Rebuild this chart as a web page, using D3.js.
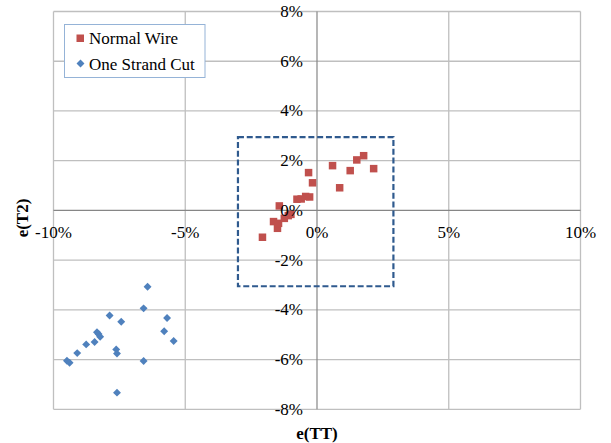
<!DOCTYPE html>
<html>
<head>
<meta charset="utf-8">
<script src="https://cdn.jsdelivr.net/npm/d3@7"></script>
<style>
  html, body { margin: 0; padding: 0; background: #fff; }
  svg { display: block; }
</style>
</head>
<body>
<div id="chart"></div>
<script>
// Strain error e(TT) vs e(T2), in percent
const normalWireTT = [-2.07, -1.65, -1.50, -1.46, -1.43, -1.24, -1.09, -0.99, -0.76, -0.60, -0.43, -0.28, -0.32, -0.17, 0.59, 0.86, 1.26, 1.51, 1.77, 2.15];
const normalWireT2 = [-1.08, -0.45, -0.72, -0.52, 0.18, -0.32, -0.21, -0.16, 0.45, 0.46, 0.56, 0.54, 1.52, 1.11, 1.80, 0.91, 1.60, 2.03, 2.20, 1.68];

const strandCutTT = [-6.43, -6.58, -7.87, -7.43, -5.69, -5.80, -5.44, -8.35, -8.29, -8.23, -8.44, -8.76, -9.10, -9.49, -9.39, -7.62, -7.59, -6.58, -7.59];
const strandCutT2 = [-3.07, -3.94, -4.23, -4.48, -4.33, -4.86, -5.25, -4.90, -4.97, -5.08, -5.29, -5.39, -5.74, -6.05, -6.13, -5.59, -5.76, -6.06, -7.33];

const xTicks = [-10, -5, 0, 5, 10];
const yTicks = [-8, -6, -4, -2, 0, 2, 4, 6, 8];
const seriesNames = ["Normal Wire", "One Strand Cut"];
// tolerance box corners (percent)
const boxX = [-3.0, 2.9];
const boxY = [-3.05, 2.95];

const FONT = "Liberation Serif";
const W = 611, H = 443;
const svg = d3.select("#chart").append("svg").attr("width", W).attr("height", H);

const x = d3.scaleLinear().domain([-10, 10]).range([53.5, 580.5]);
const y = d3.scaleLinear().domain([-8, 8]).range([409.3, 11.5]);

// gridlines
const grid = svg.append("g");
grid.selectAll("line.vx").data(xTicks.filter(d => d !== 0)).join("line")
  .attr("x1", d => x(d)).attr("x2", d => x(d))
  .attr("y1", y(8)).attr("y2", y(-8))
  .attr("stroke", "#bfbfbf").attr("stroke-width", 1.3);
grid.selectAll("line.hy").data(yTicks.filter(d => d !== 0)).join("line")
  .attr("y1", d => y(d)).attr("y2", d => y(d))
  .attr("x1", x(-10)).attr("x2", x(10))
  .attr("stroke", "#bfbfbf").attr("stroke-width", 1.3);

// zero axes
svg.append("line").attr("x1", x(0)).attr("x2", x(0)).attr("y1", y(8)).attr("y2", y(-8))
  .attr("stroke", "#868686").attr("stroke-width", 1.2);
svg.append("line").attr("x1", x(-10)).attr("x2", x(10)).attr("y1", y(0)).attr("y2", y(0))
  .attr("stroke", "#868686").attr("stroke-width", 1.2);

// series
const normal = normalWireTT.map((v, i) => ({ x: v, y: normalWireT2[i] }));
const cut = strandCutTT.map((v, i) => ({ x: v, y: strandCutT2[i] }));

const sq = 7.5;
svg.append("g").selectAll("rect").data(normal).join("rect")
  .attr("x", d => x(d.x) - sq / 2).attr("y", d => y(d.y) - sq / 2)
  .attr("width", sq).attr("height", sq)
  .attr("fill", "#c0504d");

const diamond = d3.symbol().type(d3.symbolDiamond2).size(40);
svg.append("g").selectAll("path").data(cut).join("path")
  .attr("transform", d => `translate(${x(d.x)},${y(d.y)})`)
  .attr("d", diamond)
  .attr("fill", "#4f81bd");

// dashed tolerance box
svg.append("rect")
  .attr("x", x(boxX[0])).attr("y", y(boxY[1]))
  .attr("width", x(boxX[1]) - x(boxX[0])).attr("height", y(boxY[0]) - y(boxY[1]))
  .attr("fill", "none").attr("stroke", "#2f5a8e").attr("stroke-width", 2.2)
  .attr("stroke-dasharray", "6,2.8");

// tick labels
svg.append("g").selectAll("text").data(xTicks).join("text")
  .attr("x", d => x(d)).attr("y", y(0) + 22)
  .attr("text-anchor", "middle").attr("dominant-baseline", "central")
  .attr("font-family", FONT).attr("font-size", 17)
  .text(d => d + "%");
svg.append("g").selectAll("text").data(yTicks).join("text")
  .attr("x", x(0) - 14).attr("y", d => y(d))
  .attr("text-anchor", "end").attr("dominant-baseline", "central")
  .attr("font-family", FONT).attr("font-size", 17)
  .text(d => d + "%");

// axis titles
svg.append("text").attr("x", x(0)).attr("y", 433)
  .attr("text-anchor", "middle").attr("dominant-baseline", "central")
  .attr("font-family", FONT).attr("font-size", 17).attr("font-weight", "bold").text("e(TT)");
svg.append("text").attr("transform", "translate(22,218) rotate(-90)")
  .attr("text-anchor", "middle").attr("dominant-baseline", "central")
  .attr("font-family", FONT).attr("font-size", 17).attr("font-weight", "bold").text("e(T2)");

// legend
const lg = svg.append("g");
lg.append("rect").attr("x", 64.5).attr("y", 24.5).attr("width", 140.5).attr("height", 53)
  .attr("fill", "#fff").attr("stroke", "#95b3d7").attr("stroke-width", 1);
lg.append("rect").attr("x", 76.5).attr("y", 34.5).attr("width", 7.5).attr("height", 7.5).attr("fill", "#c0504d");
lg.append("path").attr("transform", "translate(80.5,63.5)").attr("d", diamond).attr("fill", "#4f81bd");
lg.selectAll("text").data(seriesNames).join("text")
  .attr("x", 89).attr("y", (d, i) => 38.5 + i * 25.5)
  .attr("dominant-baseline", "central")
  .attr("font-family", FONT).attr("font-size", 17)
  .text(d => d);
</script>
</body>
</html>
